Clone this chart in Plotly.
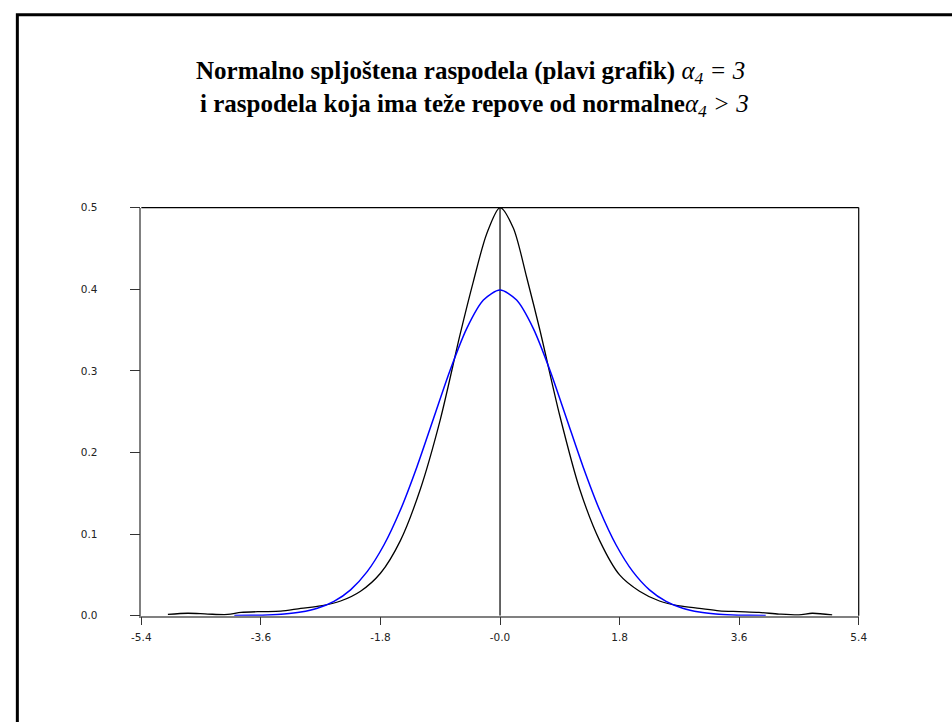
import plotly.graph_objects as go

# --- data ---
black_x = [-5.0, -4.7, -4.4, -4.1, -3.9, -3.6, -3.3, -3.0, -2.7, -2.4, -2.1, -1.8, -1.5, -1.2,
           -0.9, -0.6, -0.4, -0.2, 0.0, 0.2, 0.4, 0.6, 0.9, 1.2, 1.5, 1.8, 2.1, 2.4, 2.7, 3.0,
           3.3, 3.6, 3.9, 4.2, 4.5, 4.7, 5.0]
black_y = [0.0015, 0.003, 0.002, 0.0015, 0.004, 0.005, 0.0055, 0.009, 0.012, 0.018, 0.03, 0.052,
           0.092, 0.155, 0.24, 0.345, 0.41, 0.468, 0.5, 0.475, 0.415, 0.35, 0.245, 0.155, 0.092,
           0.05, 0.03, 0.018, 0.012, 0.009, 0.006, 0.005, 0.004, 0.002, 0.001, 0.003, 0.001]

blue_x = [-4.0, -3.75, -3.5, -3.25, -3.0, -2.75, -2.5, -2.25, -2.0, -1.75, -1.5, -1.25, -1.0,
          -0.75, -0.5, -0.25, 0.0, 0.25, 0.5, 0.75, 1.0, 1.25, 1.5, 1.75, 2.0, 2.25, 2.5, 2.75,
          3.0, 3.25, 3.5, 3.75, 4.0]
blue_y = [0.0001, 0.0004, 0.0009, 0.002, 0.0044, 0.0091, 0.0175, 0.0317, 0.054, 0.0863, 0.1295,
          0.1826, 0.242, 0.3011, 0.3521, 0.3867, 0.3989, 0.3867, 0.3521, 0.3011, 0.242, 0.1826,
          0.1295, 0.0863, 0.054, 0.0317, 0.0175, 0.0091, 0.0044, 0.002, 0.0009, 0.0004, 0.0001]

x_tickvals = [-5.4, -3.6, -1.8, 0.0, 1.8, 3.6, 5.4]
x_ticktext = ["-5.4", "-3.6", "-1.8", "-0.0", "1.8", "3.6", "5.4"]
y_tickvals = [0.0, 0.1, 0.2, 0.3, 0.4, 0.5]
y_ticktext = ["0.0", "0.1", "0.2", "0.3", "0.4", "0.5"]

title_line1 = "<b>Normalno spljoštena raspodela (plavi grafik)</b> <i>α<sub>4</sub> = 3</i>"
title_line2 = "<b>i raspodela koja ima teže repove od normalne</b><i>α<sub>4</sub> > 3</i>"

W, H = 952, 722
fig = go.Figure()

fig.add_trace(go.Scatter(x=[0, 0], y=[0, 0.5], mode="lines",
                         line=dict(color="black", width=1.2), hoverinfo="skip"))
fig.add_trace(go.Scatter(x=black_x, y=black_y, mode="lines",
                         line=dict(color="black", width=1.3, shape="spline", smoothing=0.8)))
fig.add_trace(go.Scatter(x=blue_x, y=blue_y, mode="lines",
                         line=dict(color="#0000ff", width=1.5, shape="spline", smoothing=0.8)))

tickfont = dict(family="DejaVu Sans, Arial, sans-serif", size=10.5, color="#222222")

fig.update_layout(
    width=W, height=H,
    margin=dict(l=0, r=0, t=0, b=0),
    paper_bgcolor="white", plot_bgcolor="white",
    showlegend=False,
    xaxis=dict(domain=[134 / W, 866 / W], range=[-5.4, 5.4],
               tickvals=x_tickvals, ticktext=x_ticktext,
               showgrid=False, zeroline=False,
               showline=True, linecolor="#808080", linewidth=1.5,
               ticks="outside", ticklen=8, tickcolor="#333333", tickwidth=1,
               tickfont=tickfont, ticklabelstandoff=3),
    yaxis=dict(domain=[(H - 620) / H, (H - 205) / H], range=[0, 0.5],
               tickvals=y_tickvals, ticktext=y_ticktext,
               showgrid=False, zeroline=False,
               showline=True, linecolor="#808080", linewidth=1.5,
               ticks="outside", ticklen=10, tickcolor="#333333", tickwidth=1,
               tickfont=tickfont, ticklabelstandoff=30),
)

# top and right frame of the plot area (black)
fig.add_shape(type="line", xref="x domain", yref="y domain", x0=0, x1=1, y0=1, y1=1,
              line=dict(color="black", width=1.2))
fig.add_shape(type="line", xref="x domain", yref="y domain", x0=1, x1=1, y0=0, y1=1,
              line=dict(color="black", width=1.2))

# slide frame (left and top visible)
fig.add_shape(type="rect", xref="paper", yref="paper",
              x0=7.5 / W, x1=1.02, y0=-0.02, y1=(H - 9) / H,
              line=dict(color="black", width=3))

titlefont = dict(family="Liberation Serif, Times New Roman, serif", size=25, color="black")
fig.add_annotation(text=title_line1, xref="paper", yref="paper",
                   x=470 / W, y=(H - 68) / H, showarrow=False, font=titlefont,
                   xanchor="center", yanchor="middle")
fig.add_annotation(text=title_line2, xref="paper", yref="paper",
                   x=474 / W, y=(H - 101) / H, showarrow=False, font=titlefont,
                   xanchor="center", yanchor="middle")

post = (
    "document.documentElement.style.margin='0';"
    "document.documentElement.style.overflow='hidden';"
    "document.body.style.margin='0';"
    "document.body.style.overflow='hidden';"
)

fig.write_html("out.html", config={"displayModeBar": False}, post_script=post)
